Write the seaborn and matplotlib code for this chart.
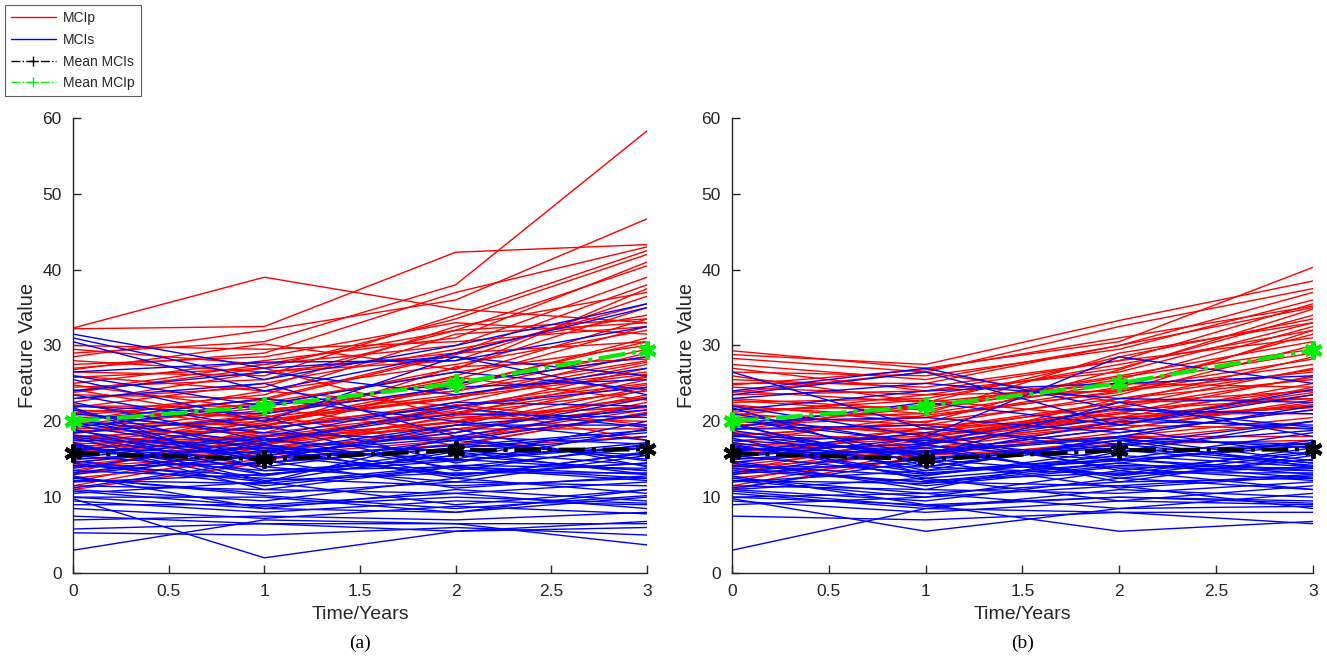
import numpy as np
import pandas as pd
import matplotlib
matplotlib.use("Agg")
import matplotlib.pyplot as plt
import seaborn as sns
from matplotlib.lines import Line2D

sns.set_theme(style="ticks")
plt.rcParams['font.family'] = ['Liberation Sans', 'DejaVu Sans']

times = [0, 1, 2, 3]

red_a = [
    [32.3, 39.0, 34.8, 33.0], [32.2, 32.5, 42.3, 43.3], [29.0, 30.5, 38.0, 58.3],
    [28.5, 32.0, 36.0, 46.7], [27.0, 29.0, 37.0, 43.0], [26.5, 26.0, 34.0, 42.5],
    [25.8, 27.0, 33.5, 42.0], [25.0, 28.0, 31.0, 41.0], [24.5, 25.5, 32.0, 40.5],
    [24.0, 27.5, 30.0, 39.0], [23.5, 23.0, 29.0, 38.0], [23.0, 24.5, 32.5, 37.0],
    [22.5, 26.5, 28.0, 36.5], [22.0, 22.0, 27.0, 35.0], [21.8, 25.0, 29.5, 34.0],
    [21.5, 20.5, 26.0, 33.5], [21.0, 23.5, 31.5, 33.0], [20.5, 21.0, 25.5, 32.5],
    [20.0, 24.0, 27.5, 32.0], [19.8, 19.5, 24.5, 31.0], [19.5, 22.5, 26.5, 30.0],
    [19.0, 20.0, 23.0, 29.0], [18.8, 18.5, 25.0, 28.5], [18.5, 21.5, 24.0, 28.0],
    [18.0, 19.0, 22.5, 27.5], [17.8, 17.5, 21.5, 27.0], [17.5, 20.5, 23.5, 26.5],
    [17.0, 18.0, 21.0, 26.0], [16.8, 16.5, 20.0, 25.5], [16.5, 19.5, 22.0, 25.0],
    [16.0, 17.0, 19.5, 24.5], [15.5, 18.5, 21.0, 24.0], [15.0, 16.0, 18.5, 23.5],
    [14.5, 17.5, 20.0, 23.0], [14.0, 15.5, 17.5, 22.5], [13.5, 18.0, 19.0, 22.0],
    [13.0, 16.5, 18.0, 21.5], [12.5, 15.0, 17.0, 21.0], [12.0, 17.0, 20.5, 20.0],
    [11.5, 16.0, 19.0, 19.0], [11.0, 14.5, 16.5, 18.0], [30.0, 29.5, 30.5, 32.5],
    [29.5, 27.5, 32.0, 33.5], [28.0, 26.5, 29.0, 30.5], [27.5, 28.5, 33.0, 31.5],
    [26.0, 24.0, 22.0, 17.5], [24.8, 21.5, 24.0, 29.5], [23.8, 27.0, 20.5, 22.0],
    [20.2, 17.0, 22.0, 25.8], [19.2, 21.8, 18.5, 24.2], [18.2, 16.2, 20.8, 21.8],
    [17.2, 19.8, 24.8, 30.5], [16.2, 18.2, 17.8, 20.8], [15.2, 20.2, 23.2, 27.8],
    [14.2, 16.8, 22.2, 19.5], [13.2, 19.2, 21.2, 24.8], [21.2, 18.0, 19.8, 23.2],
    [22.2, 19.2, 27.2, 28.2], [20.8, 22.8, 28.8, 35.5], [18.4, 20.8, 16.8, 21.2],
    [24.2, 20.0, 23.2, 26.2], [26.8, 30.2, 26.8, 37.5], [15.8, 21.2, 25.8, 22.8],
]

blue_a = [
    [31.5, 27.0, 28.5, 23.5], [31.0, 25.5, 30.0, 35.5], [30.5, 24.0, 29.0, 35.0],
    [26.5, 27.8, 28.0, 32.5], [26.0, 22.0, 25.0, 28.5], [25.5, 20.0, 28.5, 26.0],
    [24.0, 26.5, 23.5, 27.0], [23.5, 19.0, 22.0, 24.5], [23.0, 25.0, 18.0, 22.0],
    [22.5, 17.5, 21.0, 20.5], [22.0, 21.0, 24.5, 25.5], [21.5, 16.0, 19.5, 19.5],
    [21.0, 18.5, 17.5, 21.0], [20.5, 14.5, 16.5, 18.5], [20.0, 23.0, 20.0, 17.5],
    [19.5, 15.5, 18.5, 23.0], [19.0, 13.0, 15.5, 16.5], [18.5, 20.5, 14.5, 19.0],
    [18.0, 14.0, 17.0, 15.5], [17.5, 17.0, 13.0, 14.5], [17.0, 12.0, 16.0, 18.0],
    [16.5, 15.0, 19.0, 14.0], [16.0, 19.5, 13.5, 17.0], [15.5, 13.5, 15.0, 13.5],
    [15.0, 16.5, 12.5, 16.0], [14.5, 11.5, 14.0, 13.0], [14.0, 14.5, 17.5, 15.0],
    [13.5, 12.5, 11.5, 12.5], [13.0, 15.5, 13.0, 14.5], [12.5, 10.5, 12.0, 11.5],
    [12.0, 13.0, 15.5, 13.5], [11.5, 11.0, 10.5, 12.0], [11.0, 9.5, 12.5, 10.5],
    [10.5, 12.0, 9.0, 11.0], [10.0, 8.5, 11.0, 9.5], [10.0, 10.0, 8.0, 10.0],
    [9.5, 8.0, 9.5, 9.0], [9.0, 9.0, 10.5, 8.5], [7.5, 6.5, 6.5, 6.5],
    [7.0, 7.5, 7.0, 8.0], [5.8, 6.5, 5.5, 6.8], [5.3, 5.0, 6.0, 5.0],
    [3.0, 7.0, 6.5, 3.7], [9.8, 2.0, 5.5, 6.0], [12.8, 8.5, 8.0, 11.0],
    [17.2, 11.0, 14.0, 12.5], [15.8, 18.0, 22.5, 22.0], [19.8, 16.5, 15.0, 20.0],
    [14.8, 12.0, 18.0, 17.0], [16.2, 14.0, 12.0, 15.5], [18.2, 15.0, 19.5, 21.5],
    [13.8, 17.5, 16.0, 13.0], [21.8, 13.5, 14.0, 16.5],
    [16.8, 13.0, 14.8, 16.8], [15.2, 17.8, 13.8, 12.2], [14.2, 12.8, 16.2, 14.2],
    [13.2, 16.2, 12.8, 15.8], [12.2, 11.8, 14.2, 13.8], [11.2, 14.8, 11.2, 12.8],
    [18.8, 15.2, 16.8, 18.8], [17.8, 12.2, 13.2, 13.2], [20.2, 17.2, 21.8, 19.2],
    [16.4, 15.8, 17.8, 14.8], [10.8, 8.8, 10.0, 9.2], [12.6, 10.2, 8.5, 10.2],
    [19.2, 22.2, 26.5, 24.2], [14.6, 16.8, 14.8, 17.2], [8.5, 7.2, 8.8, 7.8],
]

red_b = [
    [29.3, 27.0, 30.5, 40.3], [28.8, 27.5, 33.3, 38.5], [28.3, 26.5, 32.5, 37.5],
    [27.5, 25.5, 30.0, 37.0], [26.5, 26.0, 29.5, 36.0], [25.5, 24.5, 28.0, 35.5],
    [25.0, 25.0, 30.0, 35.0], [24.5, 23.5, 27.0, 34.0], [24.0, 22.5, 28.5, 33.5],
    [23.5, 24.0, 26.5, 33.0], [23.0, 21.5, 25.5, 32.5], [22.5, 23.0, 27.5, 32.0],
    [22.0, 20.5, 24.5, 31.5], [21.5, 22.0, 26.0, 30.5], [21.0, 19.5, 23.5, 30.0],
    [20.5, 21.0, 25.0, 29.0], [20.0, 18.5, 22.5, 28.5], [19.5, 20.5, 24.0, 27.5],
    [19.0, 19.0, 22.0, 27.0], [18.5, 17.5, 21.0, 26.0], [18.0, 20.0, 23.0, 25.5],
    [17.5, 18.0, 20.5, 25.0], [17.0, 16.5, 19.5, 24.5], [16.5, 19.0, 22.5, 24.0],
    [16.0, 17.0, 20.0, 23.5], [15.5, 18.5, 21.5, 23.0], [15.0, 16.0, 19.0, 22.5],
    [14.5, 17.5, 20.5, 22.0], [14.0, 15.5, 18.5, 21.5], [13.5, 18.0, 21.0, 21.0],
    [13.0, 16.5, 18.0, 20.5], [12.5, 15.0, 17.5, 20.0], [12.0, 17.0, 19.5, 19.0],
    [11.5, 16.0, 18.0, 18.0], [11.0, 15.5, 17.0, 17.5], [27.0, 24.0, 28.0, 31.0],
    [26.0, 22.5, 25.0, 24.5], [23.8, 26.5, 22.5, 23.0], [22.8, 21.0, 29.0, 33.0],
    [20.8, 23.5, 24.0, 26.5],
    [20.2, 18.2, 21.2, 24.2], [19.2, 21.8, 25.8, 29.5], [18.2, 19.6, 19.0, 22.8],
    [17.2, 20.8, 23.8, 32.0], [16.2, 17.8, 21.8, 25.8], [15.2, 19.2, 20.2, 23.8],
    [14.2, 16.8, 23.0, 26.8], [21.2, 22.8, 20.5, 21.8], [22.2, 19.8, 26.8, 34.8],
    [13.2, 17.2, 19.8, 22.2], [24.8, 26.8, 31.0, 35.2], [18.8, 22.2, 24.2, 28.2],
]

blue_b = [
    [26.5, 19.0, 17.0, 20.0], [24.0, 27.0, 21.5, 21.0], [23.5, 26.5, 19.5, 23.5],
    [23.0, 25.0, 23.0, 22.5], [22.0, 18.0, 28.5, 25.0], [21.5, 24.0, 25.0, 26.0],
    [21.0, 17.0, 20.5, 19.0], [20.5, 15.5, 22.5, 18.0], [20.0, 20.5, 18.5, 21.5],
    [19.5, 14.5, 17.5, 17.0], [19.0, 19.5, 16.0, 20.0], [18.5, 13.5, 18.0, 16.5],
    [18.0, 17.5, 15.0, 18.5], [17.5, 16.0, 19.0, 15.5], [17.0, 12.5, 14.5, 17.5],
    [16.5, 15.0, 16.5, 14.5], [16.0, 18.5, 13.5, 16.0], [15.5, 13.0, 15.5, 14.0],
    [15.0, 16.5, 12.5, 15.0], [14.5, 11.5, 14.0, 13.5], [14.0, 14.0, 17.0, 14.5],
    [13.5, 12.0, 11.5, 13.0], [13.0, 15.0, 13.0, 14.0], [12.5, 10.5, 12.0, 12.5],
    [12.0, 13.5, 15.0, 13.5], [11.5, 11.0, 10.5, 12.0], [11.0, 9.5, 12.5, 11.0],
    [11.0, 12.5, 9.5, 11.5], [10.5, 8.5, 11.0, 10.0], [10.0, 10.5, 8.5, 10.5],
    [10.0, 9.0, 10.0, 9.5], [9.5, 8.0, 9.5, 9.0], [9.0, 10.0, 11.5, 8.5],
    [7.5, 7.0, 8.0, 6.5], [3.0, 8.5, 8.0, 8.0], [9.8, 5.5, 8.5, 8.8],
    [12.8, 9.0, 5.5, 6.8], [17.2, 14.0, 13.0, 16.5], [15.8, 16.0, 18.0, 22.0],
    [19.8, 13.0, 15.0, 13.0], [14.8, 11.0, 16.0, 17.0], [16.2, 17.0, 12.0, 15.5],
    [18.2, 15.5, 20.0, 19.5], [13.8, 12.0, 14.5, 12.5], [21.8, 14.0, 17.5, 14.0],
    [12.2, 10.0, 13.5, 11.0],
    [16.8, 13.2, 14.8, 16.8], [15.2, 17.8, 13.8, 12.2], [14.2, 12.8, 16.2, 14.2],
    [13.2, 16.2, 12.8, 15.8], [12.2, 11.8, 14.2, 13.8], [11.2, 14.8, 11.2, 12.8],
    [18.8, 15.2, 16.8, 18.8], [17.8, 12.2, 13.2, 13.2], [20.2, 17.2, 21.8, 19.2],
    [16.4, 15.8, 17.8, 14.8], [10.8, 8.8, 10.0, 9.2], [19.2, 22.5, 19.5, 24.2],
    [14.6, 16.8, 14.8, 17.2],
]

mean_mcis = [15.8, 15.0, 16.2, 16.3]
mean_mcip = [20.0, 22.0, 25.0, 29.4]

panel_labels = ["(a)", "(b)"]
ASTERISK = (6, 2, 0)


def to_long(rows, group):
    recs = []
    for i, r in enumerate(rows):
        for t, v in zip(times, r):
            recs.append({"id": f"{group}{i}", "time": t, "value": v})
    return pd.DataFrame(recs)


fig = plt.figure(figsize=(13.27, 6.58), dpi=100)
positions = [[0.0550, 0.1292, 0.4326, 0.6915], [0.5516, 0.1292, 0.4378, 0.6915]]
datasets = [(red_a, blue_a), (red_b, blue_b)]

for k, (pos, (reds, blues)) in enumerate(zip(positions, datasets)):
    ax = fig.add_axes(pos)
    dr = to_long(reds, "r")
    db = to_long(blues, "b")
    sns.lineplot(data=dr, x="time", y="value", units="id", estimator=None,
                 color="#ff0000", lw=1.0, ax=ax, legend=False)
    sns.lineplot(data=db, x="time", y="value", units="id", estimator=None,
                 color="#0000ff", lw=1.0, ax=ax, legend=False)
    ax.plot(times, mean_mcis, color="black", ls="-.", lw=3.0, marker=ASTERISK,
            ms=13, mew=3, mec="black", mfc="black", zorder=5, clip_on=False)
    ax.plot(times, mean_mcip, color="#00ee00", ls="-.", lw=3.0, marker=ASTERISK,
            ms=13, mew=3, mec="#00ee00", mfc="#00ee00", zorder=5, clip_on=False)
    ax.set_xlim(0, 3)
    ax.set_ylim(0, 60)
    ax.set_xticks([0, 0.5, 1, 1.5, 2, 2.5, 3])
    ax.set_xticklabels(["0", "0.5", "1", "1.5", "2", "2.5", "3"])
    ax.set_yticks([0, 10, 20, 30, 40, 50, 60])
    ax.tick_params(direction="in", length=6, width=1, colors="#262626",
                   labelsize=12.5, pad=8)
    for s in ["top", "right"]:
        ax.spines[s].set_visible(False)
    for s in ["left", "bottom"]:
        ax.spines[s].set_color("#262626")
        ax.spines[s].set_linewidth(1.0)
    ax.set_xlabel("Time/Years", fontsize=14, color="#262626", labelpad=5)
    ax.set_ylabel("Feature Value", fontsize=14.5, color="#262626", labelpad=4)
    ax.text(0.5, -0.135, panel_labels[k], transform=ax.transAxes, ha="center",
            va="top", fontsize=14, family="Liberation Serif", color="black")

handles = [
    Line2D([], [], color="#ff0000", lw=1),
    Line2D([], [], color="#0000ff", lw=1),
    Line2D([], [], color="black", ls="-.", lw=1, marker="+", ms=7),
    Line2D([], [], color="#00ee00", ls="-.", lw=1, marker="+", ms=7),
]
leg = fig.legend(handles, ["MCIp", "MCIs", "Mean MCIs", "Mean MCIp"],
                 loc="upper left", bbox_to_anchor=(5 / 1327, 1 - 5 / 658),
                 borderaxespad=0, fontsize=10, frameon=True, fancybox=False,
                 handlelength=3.2, borderpad=0.45, labelspacing=0.55,
                 handletextpad=0.5)
leg.get_frame().set_edgecolor("#333333")
leg.get_frame().set_linewidth(0.8)

fig.savefig("out.png", dpi=100)
